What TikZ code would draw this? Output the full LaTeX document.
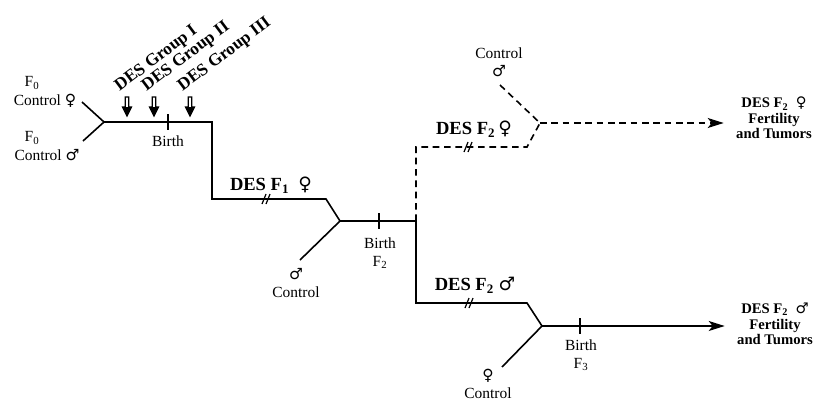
\documentclass[tikz,border=0pt]{standalone}
\usepackage{fontspec}
\setmainfont{Liberation Serif}
\newfontfamily\gsym{DejaVu Sans}
\newcommand{\fem}{{\gsym\char"2640}}
\newcommand{\mal}{{\gsym\char"2642}}
\usetikzlibrary{arrows.meta}

\tikzset{every picture/.style={line width=1.2pt},
  txt/.style={inner sep=0.75pt, align=center, font=\fontsize{11.6}{13.5}\selectfont},
  deslbl/.style={inner sep=0.75pt, font=\fontsize{13.9}{15}\selectfont\bfseries},
  endlbl/.style={inner sep=0.75pt, align=center, font=\fontsize{11}{11.6}\selectfont\bfseries},
  grplbl/.style={anchor=base west, inner sep=0pt, rotate=37, font=\fontsize{13}{15}\selectfont\bfseries},
  dashln/.style={dash pattern=on 5pt off 3.5pt},
  brk/.style={line width=0.9pt},
  tipend/.style={-{Stealth[length=12pt,width=7.5pt,inset=3pt]}, shorten >=8pt},
  grparrow/.style={line width=0.9pt, fill=white},
}

\begin{document}
\begin{tikzpicture}[x=0.75pt,y=0.75pt,yscale=-1,xscale=1]
\useasboundingbox (0,0) rectangle (817,400);

%Corners and junctions
\coordinate (j0) at (104,122);
\coordinate (c0) at (212,122);
\coordinate (c1) at (212,199);
\coordinate (c2) at (326,199);
\coordinate (j1) at (340,221);
\coordinate (s1) at (416,221);
\coordinate (u1) at (416,147);
\coordinate (u2) at (527,147);
\coordinate (j2) at (540,123);
\coordinate (l1) at (416,303);
\coordinate (l2) at (527,303);
\coordinate (j3) at (542,326);
%free ends of the control lines
\coordinate (e0a) at (82,102);
\coordinate (e0b) at (83,141);
\coordinate (e1) at (300,260);
\coordinate (e2) at (500,85);
\coordinate (e3) at (502,367);

% Text Node
\node[txt] (f0a) at (32,83) {F\textsubscript{0}};
\node[txt] (ctla) at (45,101) {Control \fem};
\node[txt] (f0b) at (32,138) {F\textsubscript{0}};
\node[txt] (ctlb) at (47,155) {Control \mal};
% Text Node
\foreach \x/\g [count=\i] in {127/I,154/II,190/III}
  \node[grplbl] (grp\i) at (\x-8,92) {DES Group \g};
% Text Node
\node[txt] (birth1) at (168,141) {Birth};
\node[deslbl] (desf1) at (271,185) {DES F\textsubscript{1}\ \ \fem};
\node[txt] (ctld) at (296,283) {\mal\\Control};
\node[txt] (birth2) at (380,253) {Birth\\F\textsubscript{2}};
\node[deslbl] (desf2a) at (474,129) {DES F\textsubscript{2}\,\fem};
\node[txt] (ctlc) at (499,62) {Control\\\mal};
\node[deslbl] (desf2b) at (475,285) {DES F\textsubscript{2}\ \mal};
\node[txt] (ctle) at (488,384) {\fem\\Control};
\node[txt] (birth3) at (581,355) {Birth\\F\textsubscript{3}};
\node[endlbl] (enda) at (774,118) {DES F\textsubscript{2}\ \ \fem\\Fertility\\and Tumors};
\node[endlbl] (endb) at (775,324) {DES F\textsubscript{2}\ \ \mal\\Fertility\\and Tumors};

%Straight Lines
\draw (e0a) -- (j0);
\draw (e0b) -- (j0);
\draw (j0) -- (c0) -- (c1) -- (c2) -- (j1) -- (s1) -- (l1) -- (l2) -- (j3);
\draw (e1) -- (j1);
\draw (e3) -- (j3);
\draw[tipend] (j3) -- (j3 -| endb.west);
%Dashed branch
\draw[dashln] (s1) -- (u1) -- (u2) -- (j2);
\draw[dashln] (e2) -- (j2);
\draw[dashln,tipend] (j2) -- (j2 -| enda.west);

%Birth ticks
\foreach \x/\y in {168/122,379/221,580/326}
  \draw (\x,\y-8) -- (\x,\y+8);
%Break marks
\foreach \x/\y in {267/199,469/147,470/303} {
  \draw[brk] (\x-5,\y+5) -- (\x-1,\y-5);
  \draw[brk] (\x-1,\y+5) -- (\x+3,\y-5);
}
%Group arrows
\foreach \x in {127,154,190} {
  \draw[grparrow] (\x-1.8,97) -- (\x-1.8,107) -- (\x-4.5,107) -- (\x,116) -- (\x+4.5,107) -- (\x+1.8,107) -- (\x+1.8,97) -- cycle;
  \fill (\x-4.5,107) -- (\x,116) -- (\x+4.5,107) -- cycle;
}

\end{tikzpicture}
\end{document}
